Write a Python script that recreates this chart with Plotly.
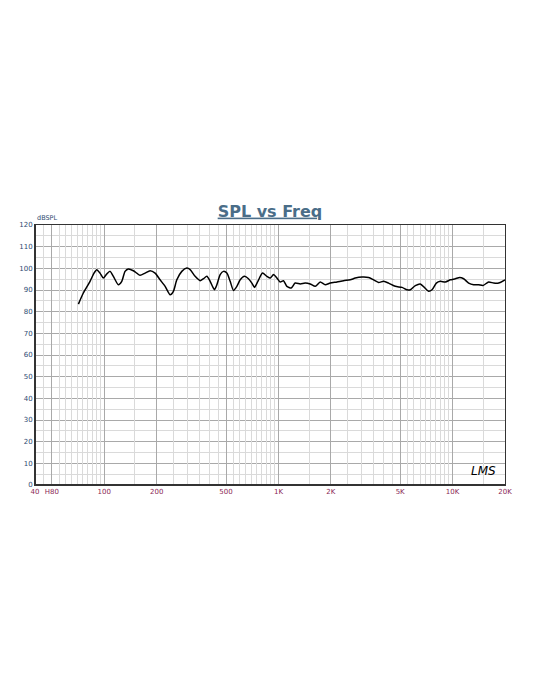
import plotly.graph_objects as go

# Frequency response (Hz, dB SPL)
freq_hz = [71, 75.8, 82.8, 87.3, 90.5, 94.5, 98.8, 103.3, 107.9, 112.7, 120.4, 126,
           131.6, 137.5, 146.9, 160.5, 171.5, 183.3, 195.7, 209.2, 223.5, 238.8, 249.4,
           260.9, 278.7, 297.8, 311.1, 332.3, 355.1, 371, 388, 405.3, 429, 443, 462.8,
           483.5, 505.6, 528.2, 551.7, 577.1, 603, 638.3, 672.9, 703.9, 728.5, 761.9,
           809.9, 858.5, 897, 936.7, 979.9, 1023, 1069, 1118, 1184, 1248, 1334, 1425,
           1522, 1627, 1738, 1856, 1984, 2168, 2365, 2585, 2761, 3017, 3293, 3518, 3759,
           4016, 4290, 4690, 5124, 5474, 5719, 6109, 6526, 6881, 7285, 7619, 8066, 8503,
           9087, 9707, 10373, 10980, 11576, 12370, 13213, 14117, 14962, 16117, 17219,
           18390, 20000]
spl_db = [83.5, 88.6, 94.0, 97.8, 99.4, 97.8, 95.5, 97.4, 98.6, 96.3, 92.4, 94.0,
          98.6, 99.7, 98.9, 96.8, 97.8, 98.9, 97.8, 94.7, 91.7, 87.8, 89.4,
          94.7, 98.6, 100.1, 99.4, 96.3, 94.3, 95.2, 96.3, 94.0, 90.1, 92.4, 97.1,
          98.6, 97.8, 94.0, 89.8, 91.7, 94.7, 96.3, 95.2, 93.2, 91.2, 94.0,
          97.8, 96.3, 95.5, 97.1, 95.5, 93.7, 94.3, 91.7, 90.9, 93.2, 92.8, 93.2,
          92.8, 91.7, 93.7, 92.4, 93.2, 93.7, 94.3, 94.7, 95.5, 96.0, 95.8, 94.7, 93.5,
          94.0, 93.2, 91.7, 91.2, 90.1, 90.1, 92.0, 92.8, 91.2, 89.4, 90.1, 93.2, 94.0,
          93.7, 94.7, 95.2, 95.8, 95.2, 93.2, 92.4, 92.4, 92.1, 93.7, 93.2,
          93.2, 94.7]

# Axis ticks
x_tick_vals = [40, 50, 100, 200, 500, 1000, 2000, 5000, 10000, 20000]
x_tick_text = ["40", "H80", "100", "200", "500", "1K", "2K", "5K", "10K", "20K"]
x_grid_vals = ([45, 55, 60, 65, 70, 75, 80, 85, 90, 95]
               + [150, 250, 300, 350, 400, 450, 550, 600, 650, 700, 750, 800, 850, 900, 950]
               + [1500, 2500, 3000, 3500, 4000, 4500, 5500, 6000, 6500, 7000, 7500,
                  8000, 8500, 9000, 9500]
               + [15000])
y_tick_vals = list(range(0, 121, 10))

X_RANGE = [1.60206, 4.30103]

fig = go.Figure()
fig.add_trace(go.Scatter(
    x=freq_hz, y=spl_db, mode="lines",
    line=dict(color="black", width=1.5, shape="spline", smoothing=0.6),
    hoverinfo="skip", showlegend=False,
))

fig.update_layout(
    width=540, height=700,
    paper_bgcolor="white", plot_bgcolor="white",
    margin=dict(l=27, r=43, t=217, b=223),
    title=dict(
        text="<b><u>SPL vs Freq</u></b>",
        x=0.5, xanchor="center", xref="paper",
        y=1 - 203 / 700, yanchor="middle", yref="container",
        font=dict(family="DejaVu Sans", size=16, color="#4a6d88"),
    ),
    annotations=[
        dict(text="dBSPL", xref="paper", yref="paper", x=0, y=1.0,
             xanchor="left", yanchor="bottom", yshift=1, showarrow=False,
             font=dict(family="DejaVu Sans", size=6.5, color="#2e4a72")),
        dict(text="<i>LMS</i>", xref="paper", yref="paper", x=0.985, y=0.02,
             xanchor="right", yanchor="bottom", showarrow=False,
             font=dict(family="DejaVu Sans", size=12, color="black")),
    ],
    xaxis2=dict(
        type="log", range=X_RANGE, overlaying="x", side="bottom",
        tickmode="array", tickvals=x_grid_vals, showticklabels=False, ticks="",
        showgrid=True, gridcolor="#dadada", gridwidth=1,
        showline=False, zeroline=False, fixedrange=True,
    ),
)

# invisible trace to activate the light-grid overlay axis
fig.add_trace(go.Scatter(x=[freq_hz[0]], y=[spl_db[0]], xaxis="x2", mode="markers",
                         marker=dict(opacity=0), hoverinfo="skip", showlegend=False))

fig.update_xaxes(
    selector=dict(anchor="y"),
)
fig.layout.xaxis.update(
    type="log", range=X_RANGE,
    tickmode="array", tickvals=x_tick_vals, ticktext=x_tick_text,
    tickfont=dict(family="DejaVu Sans", size=7, color="#8b1f55"),
    ticks="", showgrid=True, gridcolor="#a9a9a9", gridwidth=1,
    showline=True, linecolor="#333333", linewidth=1, mirror=True,
    zeroline=False, fixedrange=True,
)
fig.update_yaxes(
    range=[0, 120], tickmode="array", tickvals=y_tick_vals,
    tickfont=dict(family="DejaVu Sans", size=7, color="#2e4a72"),
    ticks="", showgrid=True, gridcolor="#a9a9a9", gridwidth=1,
    minor=dict(dtick=5, showgrid=True, gridcolor="#dadada", gridwidth=1, ticks=""),
    showline=True, linecolor="#333333", linewidth=1, mirror=True,
    zeroline=False, fixedrange=True,
)
# thicker left and bottom axis lines
fig.add_shape(type="line", xref="paper", yref="paper", x0=0, x1=1, y0=0, y1=0,
              line=dict(color="#333333", width=2))
fig.add_shape(type="line", xref="paper", yref="paper", x0=0, x1=0, y0=0, y1=1,
              line=dict(color="#333333", width=2))

fig.write_html("out.html")
